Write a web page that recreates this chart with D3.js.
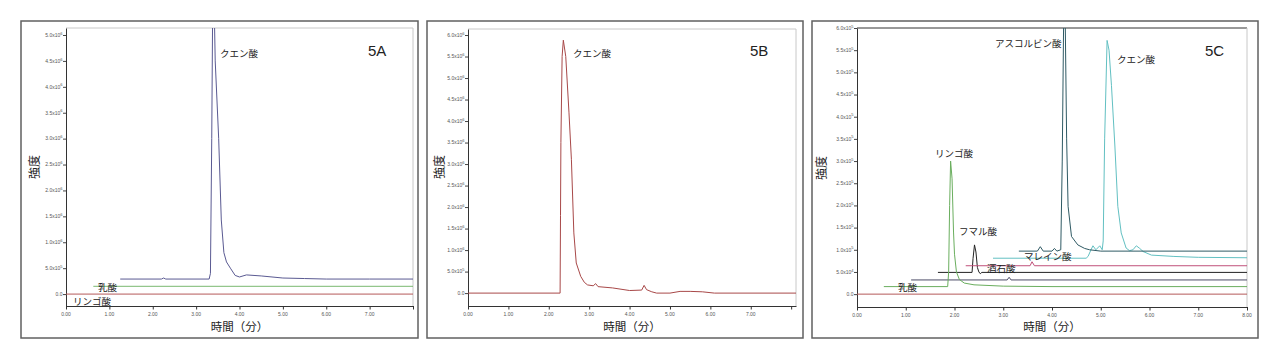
<!DOCTYPE html>
<html><head><meta charset="utf-8">
<script src="https://cdn.jsdelivr.net/npm/d3@7"></script>
<style>
html,body{margin:0;padding:0;background:#fff;}
svg{display:block;}
text{font-family:"Liberation Sans",Arial,sans-serif;}
.jp{font-family:"Noto Sans CJK JP",sans-serif;}
</style></head>
<body><svg id="c" width="1280" height="360"></svg>
<script>
// ---------- data ----------
const xTickLabelsAB = ["0.00","1.00","2.00","3.00","4.00","5.00","6.00","7.00"];
const xTickLabelsC  = ["0.00","1.00","2.00","3.00","4.00","5.00","6.00","7.00","8.00"];
const yTicksA = [0,5e5,1e6,1.5e6,2e6,2.5e6,3e6,3.5e6,4e6,4.5e6,5e6];
const yTicksB = [0,5e5,1e6,1.5e6,2e6,2.5e6,3e6,3.5e6,4e6,4.5e6,5e6,5.5e6,6e6];
const yTicksC = [0,5e4,1e5,1.5e5,2e5,2.5e5,3e5,3.5e5,4e5,4.5e5,5e5,5.5e5,6e5];

// Panel 5A traces [time(min), intensity]
const a_citric = [[1.25,2.9e5],[2.2,2.9e5],[2.25,3.1e5],[2.3,2.9e5],[3.3,2.9e5],[3.33,4e5],[3.36,3.0e6],[3.38,5.4e6],[3.42,5.4e6],[3.44,4.5e6],[3.52,3.0e6],[3.58,1.43e6],[3.64,0.8e6],[3.7,0.62e6],[3.79,0.5e6],[3.9,0.36e6],[4.0,0.33e6],[4.16,0.37e6],[4.5,0.35e6],[5.0,0.31e6],[5.5,0.3e6],[6.0,0.29e6],[7.0,0.29e6],[8.0,0.29e6]];
const a_lactic = [[0.63,1.5e5],[8.0,1.5e5]];
const a_malic  = [[0,0],[8.0,0]];

// Panel 5B trace
const b_citric = [[0,0],[2.28,0],[2.29,1.8e6],[2.3,3.5e6],[2.33,5.5e6],[2.36,5.88e6],[2.42,5.5e6],[2.5,4.19e6],[2.56,3.1e6],[2.62,1.4e6],[2.68,0.7e6],[2.79,0.39e6],[2.88,0.25e6],[2.96,0.19e6],[3.1,0.17e6],[3.16,0.22e6],[3.22,0.15e6],[3.58,0.12e6],[4.0,0.06e6],[4.3,0.07e6],[4.36,0.18e6],[4.42,0.08e6],[4.55,0.03e6],[4.67,0],[5.0,0],[5.25,0.04e6],[5.5,0.04e6],[5.8,0.03e6],[6.1,0],[8.12,0]];

// Panel 5C traces
const c_base      = [[0,0],[8,0]];
const c_malic     = [[0.55,0.17e5],[1.86,0.17e5],[1.88,0.5e5],[1.9,2.0e5],[1.92,3.0e5],[1.95,2.6e5],[1.98,1.4e5],[2.0,0.9e5],[2.04,0.5e5],[2.1,0.33e5],[2.2,0.25e5],[2.4,0.21e5],[3.0,0.18e5],[4.0,0.17e5],[8,0.17e5]];
const c_lactic    = [[1.11,0.32e5],[3.08,0.32e5],[3.12,0.38e5],[3.16,0.32e5],[8,0.32e5]];
const c_fumaric   = [[1.66,0.49e5],[2.36,0.49e5],[2.38,0.8e5],[2.41,1.11e5],[2.44,0.95e5],[2.47,0.6e5],[2.5,0.5e5],[2.53,0.46e5],[2.56,0.49e5],[8,0.49e5]];
const c_tartaric  = [[2.23,0.64e5],[3.55,0.64e5],[3.59,0.73e5],[3.64,0.64e5],[8,0.64e5]];
const c_ascorbic  = [[3.32,0.97e5],[3.7,0.97e5],[3.76,1.07e5],[3.82,0.97e5],[4.0,0.97e5],[4.05,1.03e5],[4.1,0.97e5],[4.18,1.0e5],[4.21,3.0e5],[4.24,6.3e5],[4.27,6.3e5],[4.3,3.5e5],[4.33,1.98e5],[4.4,1.3e5],[4.53,1.11e5],[4.67,1.03e5],[4.77,1.0e5],[5.0,0.97e5],[8,0.97e5]];
const c_citric    = [[2.79,0.81e5],[4.7,0.81e5],[4.74,0.85e5],[4.8,1.0e5],[4.84,1.09e5],[4.9,1.0e5],[4.98,1.09e5],[5.03,1.0e5],[5.05,1.2e5],[5.08,3.5e5],[5.13,5.72e5],[5.17,5.5e5],[5.22,4.7e5],[5.29,3.34e5],[5.35,1.98e5],[5.42,1.38e5],[5.52,1.04e5],[5.59,0.98e5],[5.66,1.0e5],[5.73,1.09e5],[5.8,1.03e5],[5.87,0.96e5],[6.04,0.88e5],[6.5,0.85e5],[7.0,0.83e5],[8,0.82e5]];

// ---------- drawing ----------
const svg = d3.select("#c");
let clipId = 0;

function fmtY(v){
  if (v === 0) return {m:"0.0", e:null};
  const e = Math.floor(Math.log10(v) + 1e-9);
  return {m:(v/Math.pow(10,e)).toFixed(1)+"x10", e:String(e)};
}

function panel(cfg){
  svg.append("rect").attr("x",cfg.box[0]).attr("y",cfg.box[1])
    .attr("width",cfg.box[2]-cfg.box[0]).attr("height",cfg.box[3]-cfg.box[1])
    .attr("fill","#fff").attr("stroke","#606060").attr("stroke-width",1.5);

  const x = d3.scaleLinear().domain(cfg.xDomain).range(cfg.xRange);
  const y = d3.scaleLinear().domain(cfg.yDomain).range(cfg.yRange);
  const g = svg.append("g");

  g.append("line").attr("x1",cfg.xRange[0]).attr("x2",cfg.xRange[1]).attr("y1",cfg.yRange[1]).attr("y2",cfg.yRange[1])
    .attr("stroke",cfg.topColor).attr("stroke-width",1);
  g.append("line").attr("x1",cfg.xRange[1]).attr("x2",cfg.xRange[1]).attr("y1",cfg.yRange[1]).attr("y2",cfg.yRange[0])
    .attr("stroke","#c8c8c8").attr("stroke-width",1);

  const xMaj = d3.range(0, Math.floor(cfg.xDomain[1]+1e-9)+1, 1);
  const xMin = d3.range(0, cfg.xDomain[1]+1e-9, 0.25);
  const yMin = d3.range(0, cfg.yTicks[cfg.yTicks.length-1]*1.0001, cfg.yTicks[1]/5);

  const gx = g.append("g").attr("transform",`translate(0,${cfg.yRange[0]})`);
  gx.call(d3.axisBottom(x).tickValues(xMin).tickSize(2).tickFormat("").tickSizeOuter(0));
  gx.call(d3.axisBottom(x).tickValues(xMaj).tickSize(3.5).tickFormat("").tickSizeOuter(0));
  gx.selectAll("path").attr("stroke","#333");
  gx.selectAll("line").attr("stroke","#333");
  gx.selectAll(".xl").data(cfg.xLabels).enter().append("text")
    .attr("x",(d,i)=>x(i)).attr("y",9.5).attr("text-anchor","middle")
    .attr("font-size",5).attr("fill","#555").text(d=>d);

  const gy = g.append("g").attr("transform",`translate(${cfg.xRange[0]},0)`);
  gy.call(d3.axisLeft(y).tickValues(yMin).tickSize(1.5).tickFormat("").tickSizeOuter(0));
  gy.call(d3.axisLeft(y).tickValues(cfg.yTicks).tickSize(3).tickFormat("").tickSizeOuter(0));
  gy.selectAll("path").attr("stroke","#333");
  gy.selectAll("line").attr("stroke","#444");
  const yl = gy.selectAll(".yl").data(cfg.yTicks).enter().append("text")
    .attr("x",-3.5).attr("y",d=>y(d)+1.8).attr("text-anchor","end")
    .attr("font-size",5).attr("fill","#555");
  yl.each(function(d){
    const f = fmtY(d), t = d3.select(this);
    t.append("tspan").text(f.m);
    if (f.e) t.append("tspan").attr("dy",-2.2).attr("font-size",4).text(f.e);
  });

  const id = "clip"+(clipId++);
  svg.append("clipPath").attr("id",id).append("rect")
    .attr("x",cfg.xRange[0]).attr("y",cfg.yRange[1])
    .attr("width",cfg.xRange[1]-cfg.xRange[0]).attr("height",cfg.yRange[0]-cfg.yRange[1]);

  const line = d3.line().x(d=>x(d[0])).y(d=>y(d[1]));
  const tg = g.append("g").attr("clip-path",`url(#${id})`);
  cfg.traces.forEach(tr=>{
    tg.append("path").datum(tr.data).attr("d",line).attr("fill","none")
      .attr("stroke",tr.color).attr("stroke-width",tr.w||1).attr("stroke-linejoin","round");
  });

  cfg.labels.forEach(l=>{
    g.append("text").attr("class","jp").attr("x",l.x).attr("y",l.y)
      .attr("font-size",l.size||9.5).attr("fill","#222").text(l.text);
  });
  g.append("text").attr("x",cfg.tag[0]).attr("y",cfg.tag[1]).attr("font-size",15)
    .attr("fill","#222").text(cfg.tag[2]);

  g.append("text").attr("class","jp").attr("x",(cfg.xRange[0]+cfg.xRange[1])/2).attr("y",331)
    .attr("text-anchor","middle").attr("font-size",11.5).attr("fill","#222").text("時間（分）");
  g.append("text").attr("class","jp")
    .attr("transform",`translate(${cfg.ytitleX},${cfg.ytitleY}) rotate(-90)`)
    .attr("text-anchor","middle").attr("font-size",12).attr("fill","#222").text("強度");
}

panel({
  box:[21,21,418,338], xDomain:[0,8], xRange:[66,413], yDomain:[-0.23e6,5.135e6], yRange:[306,28],
  xLabels:xTickLabelsAB, yTicks:yTicksA, topColor:"#c8c8c8", ytitleX:39, ytitleY:167,
  traces:[
    {data:a_malic, color:"#b55a5a"},
    {data:a_lactic, color:"#7ab870"},
    {data:a_citric, color:"#5a5a92"}
  ],
  labels:[
    {text:"クエン酸", x:220, y:57},
    {text:"乳酸", x:98, y:291},
    {text:"リンゴ酸", x:73, y:305}
  ],
  tag:[368,56,"5A"]
});

panel({
  box:[427,21,803,338], xDomain:[0,8.12], xRange:[468,796], yDomain:[-0.3e6,6.14e6], yRange:[306,29],
  xLabels:xTickLabelsAB, yTicks:yTicksB, topColor:"#c8c8c8", ytitleX:444, ytitleY:167,
  traces:[
    {data:b_citric, color:"#a84848"}
  ],
  labels:[
    {text:"クエン酸", x:573, y:57}
  ],
  tag:[750,56,"5B"]
});

panel({
  box:[812,21,1258,338], xDomain:[0,8], xRange:[857,1247], yDomain:[-0.29e5,6.0e5], yRange:[307,28],
  xLabels:xTickLabelsC, yTicks:yTicksC, topColor:"#333", ytitleX:826, ytitleY:168,
  traces:[
    {data:c_base, color:"#b55a5a"},
    {data:c_lactic, color:"#4c4c66"},
    {data:c_fumaric, color:"#222"},
    {data:c_tartaric, color:"#c0507a"},
    {data:c_citric, color:"#62c0c2"},
    {data:c_ascorbic, color:"#2f5a64"},
    {data:c_malic, color:"#6aae5e"}
  ],
  labels:[
    {text:"アスコルビン酸", x:995, y:47},
    {text:"クエン酸", x:1117, y:63},
    {text:"リンゴ酸", x:935, y:157},
    {text:"フマル酸", x:959, y:235},
    {text:"マレイン酸", x:1024, y:260},
    {text:"酒石酸", x:987, y:272},
    {text:"乳酸", x:898, y:291}
  ],
  tag:[1205,56,"5C"]
});
</script></body></html>
